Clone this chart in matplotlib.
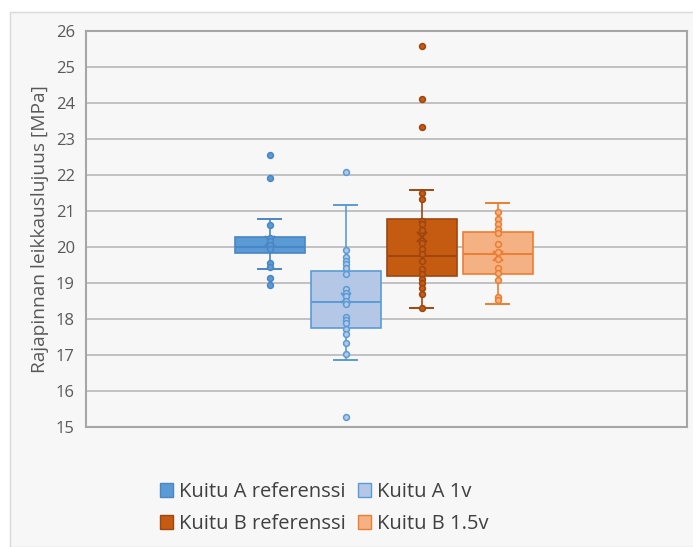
import matplotlib.pyplot as plt
from matplotlib.patches import Patch, Rectangle

# series names and colours
names = ["Kuitu A referenssi", "Kuitu A 1v", "Kuitu B referenssi", "Kuitu B 1.5v"]
fills = ["#5b9bd5", "#b4c7e7", "#c55a11", "#f4b183"]
edges = ["#4a86c5", "#5b9bd5", "#9e4610", "#ed7d31"]

# box statistics
q1 = [19.84, 17.75, 19.20, 19.26]
med = [20.01, 18.46, 19.75, 19.80]
q3 = [20.29, 19.33, 20.79, 20.43]
whislo = [19.38, 16.87, 18.30, 18.42]
whishi = [20.77, 21.18, 21.58, 21.23]
means = [20.18, 18.59, 20.27, 19.76]

# individual points (inner points and outliers)
pts_a_ref = [22.56, 21.93, 20.62, 20.26, 20.16, 20.06, 19.95, 19.55, 19.45, 19.15, 18.95]
pts_a_1v = [22.08, 19.93, 19.71, 19.62, 19.53, 19.41, 19.25, 18.83, 18.73, 18.64,
            18.50, 18.41, 18.06, 17.97, 17.88, 17.71, 17.57, 17.33, 17.02, 15.28]
pts_b_ref = [25.59, 24.11, 23.34, 21.50, 21.32, 20.72, 20.63, 20.46, 20.10, 19.95,
             19.81, 19.62, 19.39, 19.26, 19.11, 19.01, 18.87, 18.69, 18.30]
pts_b_15v = [20.97, 20.79, 20.65, 20.50, 20.39, 20.09, 19.85, 19.67, 19.41, 19.29,
             19.08, 18.61, 18.52]
points = [pts_a_ref, pts_a_1v, pts_b_ref, pts_b_15v]

yticks = list(range(15, 27))


def main():
    plt.rcParams["font.family"] = ["Open Sans", "DejaVu Sans"]
    fig = plt.figure(figsize=(6.93, 5.47), dpi=100, facecolor="white")
    # chart area background with thin border (behind the axes)
    fig.patches.append(Rectangle((10 / 693, 0), 1, 1 - 12 / 547, transform=fig.transFigure,
                                 facecolor="#f7f7f7", edgecolor="#d9d9d9", linewidth=1,
                                 zorder=-5))
    ax = fig.add_axes([86 / 693, 1 - 427 / 547, 601 / 693, 396 / 547])
    ax.set_facecolor("#f7f7f7")

    pos = [0, 1, 2, 3]
    for i in range(4):
        stats = [dict(q1=q1[i], med=med[i], q3=q3[i], whislo=whislo[i],
                      whishi=whishi[i], mean=means[i], fliers=[])]
        ax.bxp(stats, positions=[pos[i]], widths=0.92, patch_artist=True,
               showmeans=True, showfliers=False, manage_ticks=False,
               boxprops=dict(facecolor=fills[i], edgecolor=edges[i], linewidth=1.2),
               medianprops=dict(color=edges[i], linewidth=1.4),
               whiskerprops=dict(color=edges[i], linewidth=1.2),
               capprops=dict(color=edges[i], linewidth=1.4),
               capwidths=0.3,
               meanprops=dict(marker="x", markeredgecolor=edges[i], markersize=7,
                              markeredgewidth=1.5),
               zorder=3)
        ax.plot([pos[i]] * len(points[i]), points[i], "o", markersize=4.2,
                markerfacecolor=fills[i], markeredgecolor=edges[i],
                markeredgewidth=1.1, zorder=4)

    ax.set_xlim(-2.42, 5.49)
    ax.set_ylim(15, 26)
    ax.set_yticks(yticks)
    ax.set_xticks([])
    ax.tick_params(axis="y", length=0, labelsize=12, labelcolor="#595959", pad=8)
    ax.grid(axis="y", color="#b8b8b8", linewidth=1.2, zorder=0)
    ax.set_axisbelow(True)
    for s in ax.spines.values():
        s.set_color("#a6a6a6")
        s.set_linewidth(1.5)
    ax.set_ylabel("Rajapinnan leikkauslujuus [MPa]", fontsize=13.8, color="#595959", labelpad=5)

    order = [0, 2, 1, 3]
    handles = [Patch(facecolor=fills[k], edgecolor=edges[k], label=names[k]) for k in order]
    fig.legend(handles=handles, ncol=2, loc="center", bbox_to_anchor=(0.468, 1 - 508 / 547),
               frameon=False, fontsize=14.5, labelcolor="#404040",
               handlelength=0.65, handleheight=0.65, handletextpad=0.3,
               columnspacing=0.6, labelspacing=0.6)
    fig.savefig("out.png", dpi=100, facecolor="white")


main()
